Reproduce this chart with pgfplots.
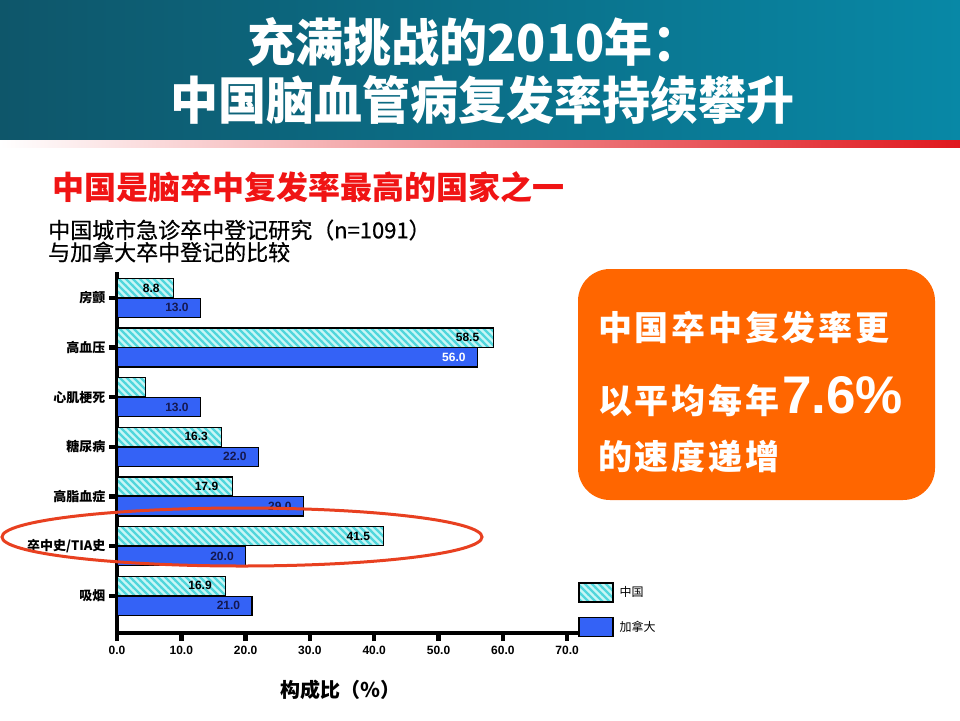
\documentclass[border=0pt]{standalone}
\usepackage{pgfplots}
\pgfplotsset{compat=1.18}
\usepackage{pgfplotstable}
\usetikzlibrary{patterns}
\usepackage{fontspec}
\setmainfont{Liberation Sans}
\newfontfamily\cjk{Noto Sans CJK SC}

\definecolor{hdrL}{RGB}{14,86,106}
\definecolor{hdrR}{RGB}{8,136,166}
\definecolor{cnfill}{RGB}{200,246,246}
\definecolor{cnline}{RGB}{80,214,220}
\definecolor{cablue}{RGB}{52,98,246}
\definecolor{labnavy}{RGB}{20,24,80}
\definecolor{boxorange}{RGB}{255,102,0}
\definecolor{ellred}{RGB}{232,64,32}
\definecolor{subred}{RGB}{240,20,20}
\definecolor{linered}{RGB}{224,24,30}

% thick diagonal stripes (upper-left to lower-right)
\pgfdeclarepatternformonly{cnstripes}{\pgfqpoint{-1pt}{-1pt}}{\pgfqpoint{8pt}{8pt}}{\pgfqpoint{7pt}{7pt}}{%
  \pgfsetlinewidth{2.2pt}%
  \pgfpathmoveto{\pgfqpoint{-1pt}{8pt}}%
  \pgfpathlineto{\pgfqpoint{8pt}{-1pt}}%
  \pgfusepath{stroke}%
}

% y: 6 = top category, 0 = bottom category
\pgfplotstableread{
y x lab
6 8.8 8.8
5 58.5 58.5
4 4.4 {}
3 16.3 16.3
2 17.9 17.9
1 41.5 41.5
0 16.9 16.9
}\china

\pgfplotstableread{
y x lab
6 13.0 13.0
5 56.0 {}
4 13.0 13.0
3 22.0 22.0
2 29.0 29.0
1 20.0 20.0
0 21.0 21.0
}\canada

\pgfplotstableread{
y x lab
5 56.0 56.0
}\canadawhite

\begin{document}
\begin{tikzpicture}
\begin{scope}[x=1pt,y=1pt]
\path[use as bounding box] (0,0) rectangle (960,-720);
\fill[white] (0,0) rectangle (960,-720);
\shade[left color=hdrL, right color=hdrR] (0,0) rectangle (960,-140);
\shade[left color=white, right color=linered] (0,-140) rectangle (960,-147);
\node[text=white, font=\cjk\bfseries\fontsize{48}{50}\selectfont, yscale=1.06] at (474,-42) {充满挑战的2010年：};
\node[text=white, font=\cjk\bfseries\fontsize{48}{50}\selectfont, yscale=1.06] at (482,-100) {中国脑血管病复发率持续攀升};
\node[anchor=west, inner sep=0, text=subred, font=\cjk\bfseries\fontsize{32}{36}\selectfont] at (52,-187) {中国是脑卒中复发率最高的国家之一};
\node[anchor=west, inner sep=0, font=\cjk\fontsize{22}{24}\selectfont\addfontfeatures{FakeBold=0.6}] at (48,-230) {中国城市急诊卒中登记研究（n=1091）};
\node[anchor=west, inner sep=0, font=\cjk\fontsize{22}{24}\selectfont\addfontfeatures{FakeBold=0.6}] at (48,-252) {与加拿大卒中登记的比较};
\fill[boxorange, rounded corners=32pt] (578,-269) rectangle (935,-500);
\node[anchor=west, inner sep=0, text=white, font=\cjk\bfseries\fontsize{34}{38}\selectfont\addfontfeatures{LetterSpace=8}] at (598,-327) {中国卒中复发率更};
\node[anchor=base west, inner sep=0, text=white] at (598,-413) {{\cjk\bfseries\fontsize{34}{38}\selectfont\addfontfeatures{LetterSpace=8}以平均每年}\hspace{3pt}{\bfseries\fontsize{53}{56}\selectfont 7.6\%}};
\node[anchor=west, inner sep=0, text=white, font=\cjk\bfseries\fontsize{34}{38}\selectfont\addfontfeatures{LetterSpace=8}] at (598,-457) {的速度递增};
\end{scope}

\begin{axis}[
  at={(117pt,-633pt)}, anchor=south west,
  scale only axis, width=463pt, height=361pt,
  xmin=0, xmax=72, ymin=-0.75, ymax=6.52,
  axis lines=left,
  axis line style={-, line width=4pt, black},
  tick align=outside,
  major tick length=8pt,
  tick style={line width=4.5pt, black},
  xtick={0,10,...,70},
  xticklabels={0.0,10.0,20.0,30.0,40.0,50.0,60.0,70.0},
  ytick={0,1,...,6},
  yticklabels={吸烟,卒中史/TIA史,高脂血症,糖尿病,心肌梗死,高血压,房颤},
  x tick label style={font=\bfseries\fontsize{12}{13}\selectfont, yshift=-2pt},
  y tick label style={font=\cjk\bfseries\fontsize{13}{15}\selectfont},
  xlabel={构成比（％）},
  xlabel style={font=\cjk\bfseries\fontsize{20}{22}\selectfont, at={(axis description cs:0.483,0)}, anchor=center, yshift=-57pt},
  xbar, bar width=0.385,
  point meta=explicit symbolic,
  nodes near coords={\pgfplotspointmeta},
  legend style={at={(0.996,0.141)}, anchor=north west, draw=none, fill=none,
    font=\cjk\fontsize{12}{14}\selectfont, row sep=14pt, inner sep=0pt},
  legend cell align=left,
  legend image code/.code={\draw[#1] (0pt,-9.5pt) rectangle (34pt,9.5pt);},
  legend style={nodes={inner xsep=6pt}},
]
\addplot[draw=black, line width=1.2pt, preaction={fill=cnfill},
  pattern=cnstripes, pattern color=cnline, bar shift=0.2,
  every node near coord/.append style={anchor=east, xshift=-10pt, text=black, font=\bfseries\fontsize{12}{13}\selectfont}]
  table[x=x, y=y, meta=lab] {\china};
\addlegendentry{中国}
\addplot[draw=black, line width=1.2pt, fill=cablue, bar shift=-0.2,
  every node near coord/.append style={anchor=east, xshift=-8pt, text=labnavy, font=\bfseries\fontsize{12}{13}\selectfont}]
  table[x=x, y=y, meta=lab] {\canada};
\addlegendentry{加拿大}
\addplot[draw=none, fill=none, bar shift=-0.2, forget plot,
  every node near coord/.append style={anchor=east, xshift=-8pt, text=white, font=\bfseries\fontsize{12}{13}\selectfont}]
  table[x=x, y=y, meta=lab] {\canadawhite};
\end{axis}

\begin{scope}[x=1pt,y=1pt]
\draw[ellred, line width=3pt] (242,-537) ellipse [x radius=240pt, y radius=29pt];
\end{scope}
\end{tikzpicture}
\end{document}
